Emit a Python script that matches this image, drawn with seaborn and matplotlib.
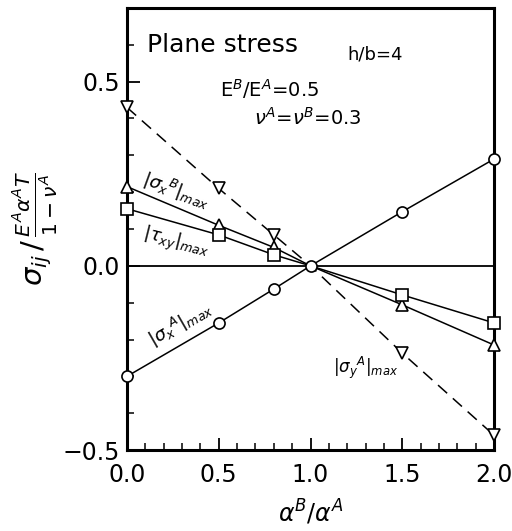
import numpy as np
import pandas as pd
import seaborn as sns
import matplotlib.pyplot as plt
from matplotlib.ticker import MultipleLocator

# ratio alpha^B / alpha^A
alpha_ratio = [0.0, 0.5, 0.8, 1.0, 1.5, 2.0]

# normalised max stresses
sigma_xA = [-0.30, -0.155, -0.063, 0.0, 0.147, 0.29]
sigma_xB = [0.215, 0.11, 0.05, 0.0, -0.106, -0.215]
tau_xy = [0.155, 0.084, 0.03, 0.0, -0.079, -0.155]
sigma_yA = [0.43, 0.21, 0.084, 0.0, -0.237, -0.46]

sns.set_style("ticks")
plt.rcParams['font.family'] = ['DejaVu Sans']
plt.rcParams['mathtext.fontset'] = 'dejavusans'
for k in ['text.color', 'axes.labelcolor', 'xtick.color', 'ytick.color', 'axes.edgecolor']:
    plt.rcParams[k] = 'black'

fig = plt.figure(figsize=(5.12, 5.31), dpi=100)
ax = fig.add_axes([0.248, 0.1525, 0.717, 0.8325])

ax.axhline(0, color='black', lw=1.3, zorder=1)

# circle series drawn last; the others skip their marker at the shared point (1, 0)
series = [
    (sigma_yA, 'v', '--'),
    (sigma_xB, '^', '-'),
    (tau_xy, 's', '-'),
    (sigma_xA, 'o', '-'),
]
for vals, mk, ls in series:
    df = pd.DataFrame({'x': alpha_ratio, 'y': vals})
    every = None if mk == 'o' else [0, 1, 2, 4, 5]
    sns.lineplot(data=df, x='x', y='y', ax=ax, color='black', lw=1.1,
                 marker=mk, markersize=8, markerfacecolor='white',
                 markeredgecolor='black', markeredgewidth=1.2, markevery=every,
                 clip_on=False, zorder=3)
    if ls == '--':
        ax.lines[-1].set_linestyle((0, (8, 5)))

ax.set_xlim(0, 2)
ax.set_ylim(-0.5, 0.7)
ax.set_xticks([0.0, 0.5, 1.0, 1.5, 2.0])
ax.set_yticks([-0.5, 0.0, 0.5])
ax.xaxis.set_minor_locator(MultipleLocator(0.1))
ax.yaxis.set_minor_locator(MultipleLocator(0.1))
ax.tick_params(which='major', direction='in', length=9, width=1.3, labelsize=17,
               top=False, right=False, pad=5)
ax.tick_params(axis='x', which='major', pad=9)
ax.tick_params(which='minor', direction='in', length=5, width=1.1, top=False, right=False)
for s in ax.spines.values():
    s.set_linewidth(2.2)

ax.set_xlabel(r'$\alpha^B/\alpha^A$', fontsize=17, labelpad=8)
ax.set_ylabel(r'$\sigma_{ij}\,/\,\frac{E^A\alpha^A T}{1-\nu^A}$', fontsize=21, labelpad=2)

ax.text(0.11, 0.58, 'Plane stress', fontsize=18)
ax.text(1.20, 0.56, 'h/b=4', fontsize=13)
ax.text(0.507, 0.46, r'E$^B$/E$^A$=0.5', fontsize=14)
ax.text(0.69, 0.383, r'$\nu^A$=$\nu^B$=0.3', fontsize=14)

ax.text(0.267, 0.204, r'|$\sigma_x$$^B$|$_{max}$', fontsize=13, rotation=-20,
        ha='center', va='center')
ax.text(0.267, 0.0625, r'|$\tau_{xy}$|$_{max}$', fontsize=13, rotation=-14,
        ha='center', va='center')
ax.text(0.294, -0.158, r'|$\sigma_x$$^A$|$_{max}$', fontsize=13, rotation=30,
        ha='center', va='center')
ax.text(1.30, -0.277, r'|$\sigma_y$$^A$|$_{max}$', fontsize=12,
        ha='center', va='center')

fig.savefig('out.png', dpi=100)
